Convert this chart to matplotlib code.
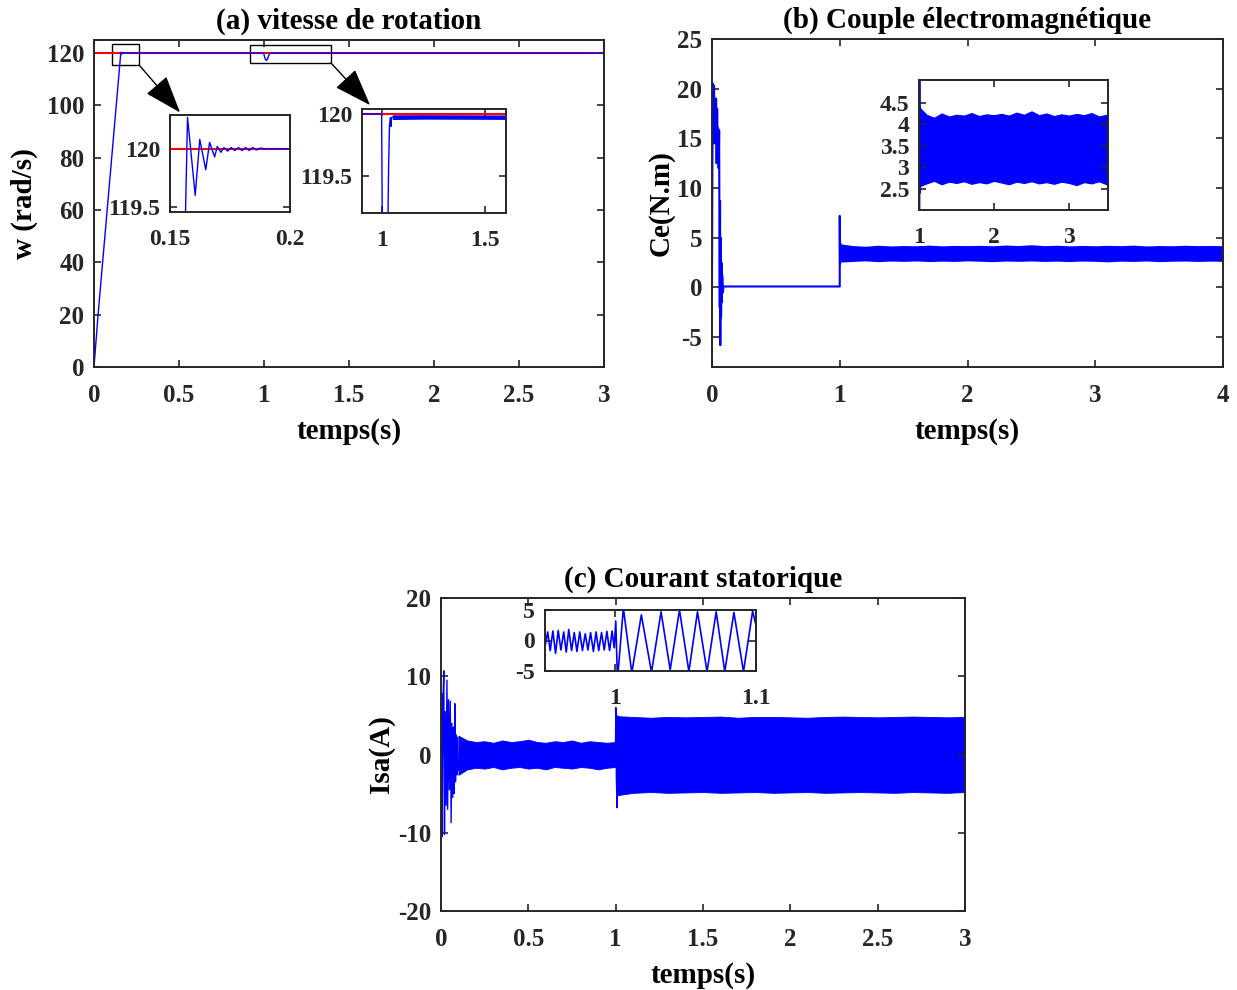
import matplotlib
matplotlib.use("Agg")
import matplotlib.pyplot as plt
from matplotlib.ticker import FormatStrFormatter
from matplotlib.patches import Rectangle

plt.rcParams['font.family'] = ['Liberation Serif', 'DejaVu Serif']
plt.rcParams['font.weight'] = 'bold'

# ---- (a) vitesse de rotation ----
w_ref = 120.0
w_t = [0, 0.024, 0.1555, 0.1573, 0.1605, 0.1624, 0.1649, 0.1665, 0.1686, 0.1697,
       0.1712, 0.1725, 0.1740, 0.1755, 0.1770, 0.1785, 0.1800, 0.1815, 0.1830, 0.1845,
       0.1860, 0.1875, 0.1900, 0.998, 1.004, 1.012, 1.020, 1.026, 1.032, 1.036,
       1.040, 1.043, 1.046, 1.050, 3.0]
w_v = [0, 20, 118.5, 120.27, 119.60, 120.08, 119.82, 120.055, 119.93, 120.02,
       119.97, 120.01, 119.98, 120.01, 119.985, 120.01, 119.985, 120.01, 119.985, 120.01,
       119.99, 120.005, 120.0, 120.0, 118.3, 117.2, 117.6, 118.8, 119.6, 119.9,
       119.97, 119.90, 119.97, 119.975, 119.975]
w_band_t = [1.05, 1.2, 1.4, 1.6, 1.8, 2.0, 2.2, 2.4, 2.6, 2.8, 3.0]
w_band_lo = [119.955, 119.958, 119.957, 119.956, 119.958, 119.957, 119.956, 119.958, 119.957, 119.956, 119.957]
w_band_hi = [119.993, 119.994, 119.993, 119.992, 119.994, 119.993, 119.993, 119.994, 119.993, 119.992, 119.993]

# ---- (b) couple electromagnetique ----
ce_t0 = [0, 0.003, 0.008, 0.012, 0.016, 0.020, 0.024, 0.028, 0.032, 0.036, 0.040, 0.044,
         0.048, 0.052, 0.056, 0.059, 0.061, 0.063, 0.065, 0.068, 0.071, 0.074, 0.077,
         0.080, 0.085, 0.090, 1.0, 1.0, 1.002, 1.005, 1.010]
ce_v0 = [0, 12, 20.5, 15, 20.3, 14.5, 19.0, 15.5, 19.0, 12.5, 18.0, 14.8,
         16.0, 12, 15.8, 3.0, -2, 8.7, -5.8, 5.0, -3.0, 2.5, -1.5,
         1.2, -0.5, 0.1, 0.1, 7.2, 2.4, 4.4, 3.4]
ce_env_t = [1.0, 1.1, 1.2, 1.3, 1.4, 1.5, 1.6, 1.7, 1.8, 1.9, 2.0, 2.1, 2.2, 2.3, 2.4, 2.5,
            2.6, 2.7, 2.8, 2.9, 3.0, 3.1, 3.2, 3.3, 3.4, 3.5, 3.6, 3.7, 3.8, 3.9, 4.0]
ce_up = [4.40, 4.22, 4.15, 4.25, 4.18, 4.22, 4.20, 4.26, 4.19, 4.23, 4.21, 4.24, 4.20, 4.27,
         4.22, 4.30, 4.21, 4.25, 4.19, 4.23, 4.20, 4.24, 4.21, 4.26, 4.18, 4.22, 4.20, 4.25,
         4.21, 4.23, 4.20]
ce_lo = [2.55, 2.62, 2.68, 2.60, 2.66, 2.63, 2.67, 2.61, 2.65, 2.62, 2.68, 2.64, 2.60, 2.66,
         2.63, 2.67, 2.62, 2.65, 2.61, 2.66, 2.63, 2.58, 2.65, 2.62, 2.67, 2.60, 2.64, 2.66,
         2.62, 2.65, 2.63]

# ---- (c) courant statorique ----
isa_t0 = [0.000, 0.004, 0.007, 0.011, 0.016, 0.020, 0.024, 0.029, 0.034, 0.038, 0.043, 0.048,
          0.053, 0.058, 0.062, 0.067, 0.071, 0.075, 0.079, 0.083, 0.087, 0.091, 0.095, 0.100]
isa_v0 = [0.0, 7.8, -10.5, 6.0, 10.7, -10.2, 5.5, -6.5, 9.5, -7.0, 7.0, -4.5,
          6.8, -8.7, 4.0, -5.5, 3.5, -5.0, 6.5, -3.5, 2.5, -2.6, 2.2, -2.0]
isa_t1 = [0.998, 1.001, 1.004, 1.008, 1.012]
isa_v1 = [-1.5, 6.0, -3.0, -6.8, 4.9]
isa_env_t0 = [0.10, 0.15, 0.20, 0.25, 0.30, 0.35, 0.40, 0.45, 0.50, 0.55, 0.60, 0.65, 0.70,
              0.75, 0.80, 0.85, 0.90, 0.95, 1.00]
isa_up0 = [2.4, 1.8, 1.6, 1.7, 1.5, 1.8, 1.6, 1.7, 1.9, 1.6, 1.5, 1.7, 1.6, 1.8, 1.5, 1.7, 1.6, 1.5, 1.6]
isa_lo0 = [-2.6, -1.9, -1.7, -1.8, -1.6, -1.9, -1.7, -1.6, -1.8, -1.7, -1.9, -1.6, -1.7, -1.8,
           -1.6, -1.7, -1.9, -1.7, -1.6]
isa_env_t1 = [1.01, 1.1, 1.2, 1.3, 1.4, 1.5, 1.6, 1.7, 1.8, 1.9, 2.0, 2.1, 2.2, 2.3, 2.4, 2.5,
              2.6, 2.7, 2.8, 2.9, 3.0]
isa_up1 = [4.9, 4.8, 4.7, 4.8, 4.75, 4.8, 4.85, 4.7, 4.8, 4.8, 4.75, 4.7, 4.8, 4.85, 4.8, 4.75,
           4.8, 4.85, 4.8, 4.75, 4.8]
isa_lo1 = [-5.2, -4.9, -4.8, -4.9, -4.85, -4.8, -4.9, -4.85, -4.8, -4.9, -4.85, -4.8, -4.9,
           -4.85, -4.8, -4.85, -4.9, -4.8, -4.85, -4.9, -4.8]
# zoom 0.95 - 1.1 s
isa_zt = [0.9500, 0.9519, 0.9537, 0.9556, 0.9575, 0.9594, 0.9613, 0.9633, 0.9651, 0.9669,
          0.9689, 0.9708, 0.9727, 0.9747, 0.9766, 0.9786, 0.9805, 0.9824, 0.9844, 0.9863,
          0.9882, 0.9902, 0.9921, 0.9940, 0.9959, 0.9977, 0.9992, 1.0003, 1.0015, 1.0057,
          1.0117, 1.0185, 1.0257, 1.0325, 1.0390, 1.0456, 1.0523, 1.0584, 1.0652, 1.0717,
          1.0778, 1.0843, 1.0911, 1.0976, 1.1000]
isa_zv = [-1.0, 1.4, -1.65, 1.55, -2.1, 1.65, -1.55, 1.4, -1.9, 1.8,
          -1.65, 1.3, -1.8, 1.4, -1.65, 1.1, -1.55, 1.3, -1.8, 1.4,
          -1.65, 1.3, -1.55, 1.5, -1.65, 1.55, -1.2, 3.2, -6.5, 5.3,
          -5.3, 4.2, -5.2, 4.7, -4.8, 5.0, -5.1, 4.7, -5.1, 4.7,
          -5.1, 4.6, -5.1, 4.8, 2.5]

W, H = 1237, 990
fig = plt.figure(figsize=(W / 100, H / 100), dpi=100)


def px_axes(x0, y0, x1, y1):
    return fig.add_axes([x0 / W, 1 - y1 / H, (x1 - x0) / W, (y1 - y0) / H])


def style(ax, size=18, xpad=12):
    for s in ax.spines.values():
        s.set_linewidth(1.4)
        s.set_color('#262626')
    ax.tick_params(direction='in', top=True, right=True, length=5, width=1.2,
                   colors='#262626', labelsize=size)
    ax.tick_params(axis='x', pad=xpad)
    ax.tick_params(axis='y', pad=7)
    ax.xaxis.set_major_formatter(FormatStrFormatter('%g'))
    ax.yaxis.set_major_formatter(FormatStrFormatter('%g'))


TSIZE = 21

ax_a = px_axes(94, 40, 604, 367)
ax_b = px_axes(712, 39, 1223, 367)
ax_c = px_axes(441, 598, 965, 911)

# (a)
ax_a.plot([0, 3], [w_ref, w_ref], color='red', lw=1.5)
ax_a.plot(w_t, w_v, color='blue', lw=1)
ax_a.fill_between(w_band_t, w_band_lo, w_band_hi, color='blue', lw=0)
ax_a.set_xlim(0, 3)
ax_a.set_ylim(0, 125)
ax_a.set_xticks([0, 0.5, 1, 1.5, 2, 2.5, 3])
ax_a.set_yticks([0, 20, 40, 60, 80, 100, 120])
style(ax_a)
ax_a.set_title('(a) vitesse de rotation', fontsize=TSIZE, fontweight='bold', pad=8)
ax_a.set_xlabel('temps(s)', fontsize=TSIZE, fontweight='bold', labelpad=8)
ax_a.set_ylabel('w (rad/s)', fontsize=TSIZE, fontweight='bold', labelpad=6)
ax_a.add_patch(Rectangle((0.108, 115.4), 0.158, 8.1, fill=False, ec='black', lw=1))
ax_a.add_patch(Rectangle((0.918, 116.2), 0.476, 6.8, fill=False, ec='black', lw=1))
arrow = dict(arrowstyle='-|>,head_length=1.4,head_width=0.5', color='black', lw=1,
             mutation_scale=17, shrinkA=0, shrinkB=0)
ax_a.annotate('', xy=(0.506, 97.3), xytext=(0.266, 115.4), arrowprops=arrow, zorder=5)
ax_a.annotate('', xy=(1.624, 100.1), xytext=(1.394, 116.2), arrowprops=arrow, zorder=5)

in_a1 = px_axes(170, 115, 290, 212)
in_a1.plot([0, 3], [w_ref, w_ref], color='red', lw=1.5)
in_a1.plot(w_t, w_v, color='blue', lw=1)
in_a1.set_xlim(0.15, 0.2)
in_a1.set_ylim(119.457, 120.29)
in_a1.set_xticks([0.15, 0.2])
in_a1.set_yticks([119.5, 120])
style(in_a1, size=17)

in_a2 = px_axes(362, 109, 506, 213)
in_a2.plot([0, 3], [w_ref, w_ref], color='red', lw=1.5)
in_a2.plot(w_t, w_v, color='blue', lw=1)
in_a2.fill_between(w_band_t, w_band_lo, w_band_hi, color='blue', lw=0)
in_a2.set_xlim(0.903, 1.6)
in_a2.set_ylim(119.2, 120.04)
in_a2.set_xticks([1, 1.5])
in_a2.set_yticks([119.5, 120])
style(in_a2, size=17)

# (b)
ax_b.plot(ce_t0, ce_v0, color='blue', lw=1.5)
ax_b.fill_between(ce_env_t, ce_lo, ce_up, color='blue', lw=0)
ax_b.set_xlim(0, 4)
ax_b.set_ylim(-8, 25)
ax_b.set_xticks([0, 1, 2, 3, 4])
ax_b.set_yticks([-5, 0, 5, 10, 15, 20, 25])
style(ax_b)
ax_b.set_title('(b) Couple électromagnétique', fontsize=TSIZE, fontweight='bold', pad=8)
ax_b.set_xlabel('temps(s)', fontsize=TSIZE, fontweight='bold', labelpad=8)
ax_b.set_ylabel('Ce(N.m)', fontsize=TSIZE, fontweight='bold', labelpad=2)

in_b = px_axes(919, 80, 1108, 210)
in_b.plot(ce_t0, ce_v0, color='blue', lw=2)
in_b.fill_between(ce_env_t, ce_lo, ce_up, color='blue', lw=0.8, ec='blue')
in_b.set_xlim(1, 3.52)
in_b.set_ylim(2.0, 5.03)
in_b.set_xticks([1, 2, 3])
in_b.set_yticks([2.5, 3, 3.5, 4, 4.5])
style(in_b, size=17)

# (c)
ax_c.plot(isa_t0, isa_v0, color='blue', lw=1)
ax_c.fill_between(isa_env_t0, isa_lo0, isa_up0, color='blue', lw=0.6, ec='blue')
ax_c.plot(isa_t1, isa_v1, color='blue', lw=1)
ax_c.fill_between(isa_env_t1, isa_lo1, isa_up1, color='blue', lw=0.6, ec='blue')
ax_c.set_xlim(0, 3)
ax_c.set_ylim(-20, 20)
ax_c.set_xticks([0, 0.5, 1, 1.5, 2, 2.5, 3])
ax_c.set_yticks([-20, -10, 0, 10, 20])
style(ax_c)
ax_c.set_title('(c) Courant statorique', fontsize=TSIZE, fontweight='bold', pad=8)
ax_c.set_xlabel('temps(s)', fontsize=TSIZE, fontweight='bold', labelpad=8)
ax_c.set_ylabel('Isa(A)', fontsize=TSIZE, fontweight='bold', labelpad=2)

in_c = px_axes(545, 610, 756, 671)
in_c.plot(isa_zt, isa_zv, color='blue', lw=1.2)
in_c.set_xlim(0.95, 1.1)
in_c.set_ylim(-5, 5)
in_c.set_xticks([1, 1.1])
in_c.set_yticks([-5, 0, 5])
style(in_c, size=17)

fig.savefig('out.png', dpi=100)
